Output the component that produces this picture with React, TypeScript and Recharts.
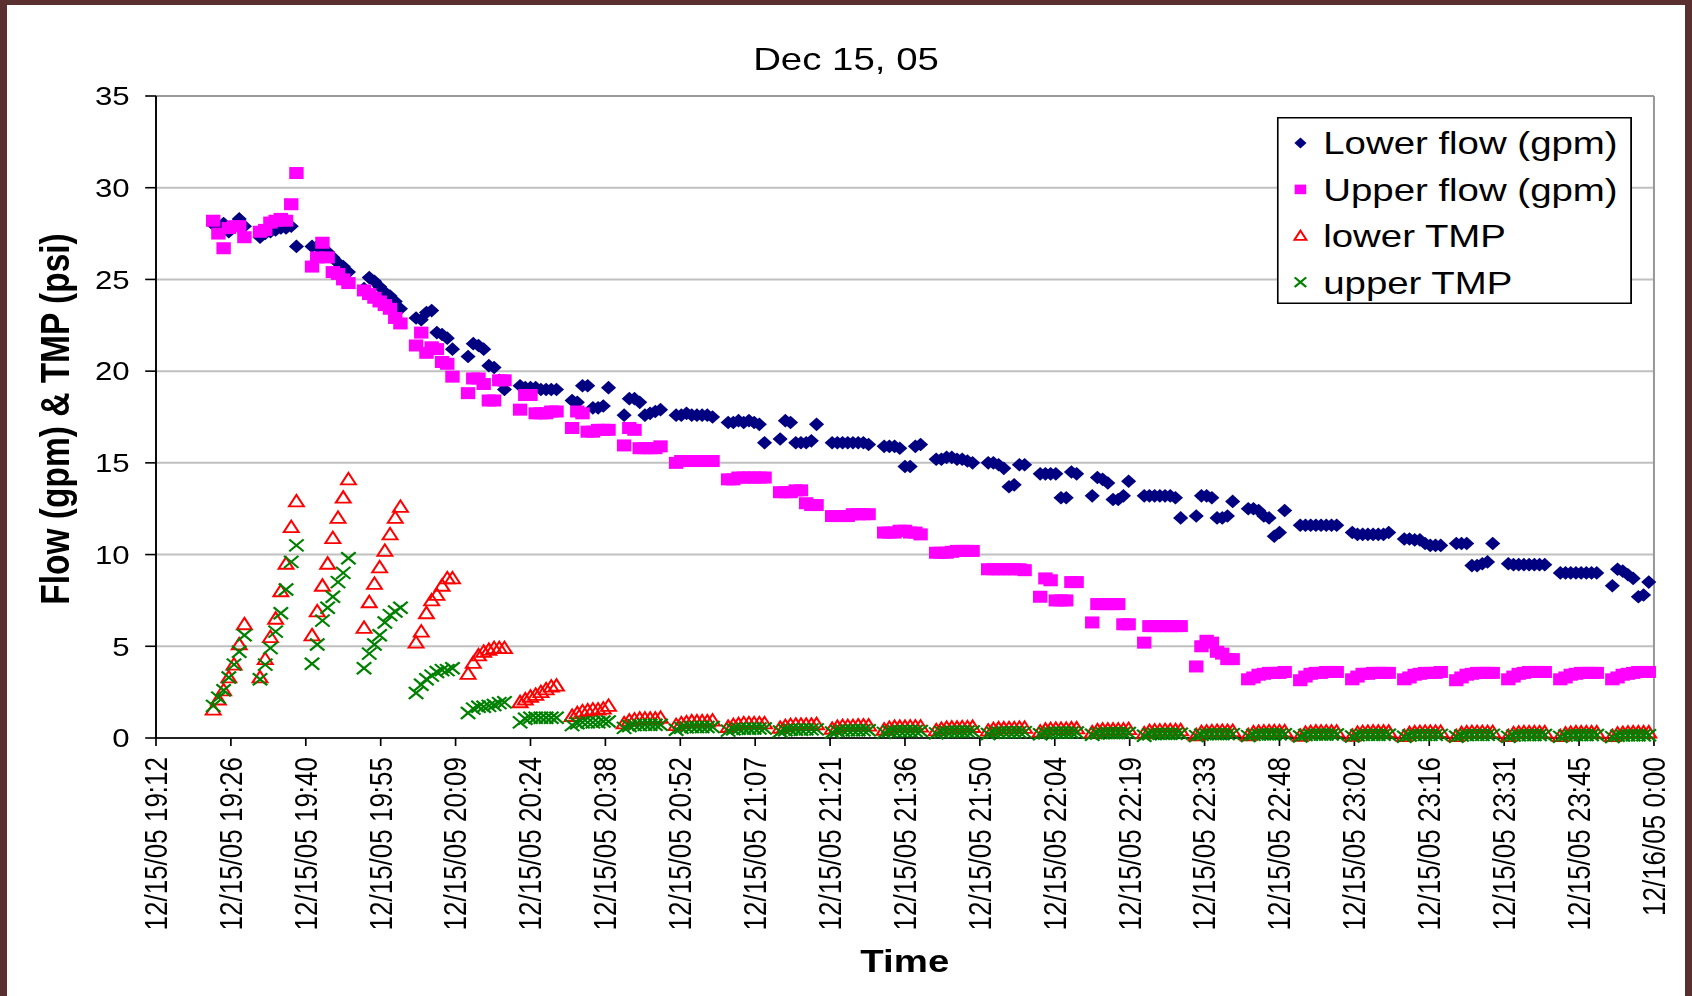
import { ScatterChart, Scatter, XAxis, YAxis, CartesianGrid, ReferenceLine, Legend } from 'recharts';

// Excel chart was stretched sideways; we draw at native width and stretch it the same way
const STRETCH = 1.2;
const FONT = '"Liberation Sans", Arial, sans-serif';

// minutes after 19:12, one sample a minute, 8 samples every 10 minutes
const groupStart = [11, 20, 30, 40, 50, 60, 70, 80, 90, 100, 110, 120, 130, 140, 150, 160, 170, 180, 190, 200, 210, 220, 230, 240, 250, 260, 270, 280];

const lowerFlow = [
  [28.0, 27.9, 28.05, 27.6, 27.9, 28.3, 27.9],
  [27.3, 27.5, 27.6, 27.7, 27.8, 27.8, 27.9, 26.8],
  [26.8, 26.8, 26.7, 26.5, 26.2, 25.9, 25.7, 25.4],
  [24.5, 25.1, 24.9, 24.6, 24.3, 24.1, 23.8, 23.4],
  [22.9, 22.8, 23.2, 23.3, 22.1, 22.0, 21.8, 21.2],
  [20.8, 21.5, 21.4, 21.2, 20.3, 20.2, 19.5, 19.0],
  [19.2, 19.1, 19.1, 19.1, 19.0, 19.0, 19.0, 19.0],
  [18.4, 18.3, 19.2, 19.2, 18.0, 18.0, 18.1, 19.1],
  [17.6, 18.5, 18.5, 18.3, 17.6, 17.7, 17.8, 17.9],
  [17.6, 17.6, 17.7, 17.6, 17.6, 17.6, 17.6, 17.5],
  [17.2, 17.2, 17.3, 17.2, 17.3, 17.2, 17.1, 16.1],
  [16.3, 17.3, 17.2, 16.1, 16.1, 16.1, 16.2, 17.1],
  [16.1, 16.1, 16.1, 16.1, 16.1, 16.1, 16.1, 16.0],
  [15.9, 15.9, 15.9, 15.8, 14.8, 14.8, 15.9, 16.0],
  [15.2, 15.2, 15.3, 15.3, 15.2, 15.2, 15.1, 15.0],
  [15.0, 15.0, 14.9, 14.7, 13.7, 13.8, 14.9, 14.9],
  [14.4, 14.4, 14.4, 14.4, 13.1, 13.1, 14.5, 14.4],
  [13.2, 14.2, 14.1, 13.9, 13.0, 13.0, 13.2, 14.0],
  [13.2, 13.2, 13.2, 13.2, 13.2, 13.2, 13.1, 12.0],
  [12.1, 13.2, 13.2, 13.1, 12.0, 12.0, 12.1, 12.9],
  [12.5, 12.5, 12.4, 12.1, 12.0, 11.0, 11.2, 12.4],
  [11.6, 11.6, 11.6, 11.6, 11.6, 11.6, 11.6, 11.6],
  [11.2, 11.1, 11.1, 11.1, 11.1, 11.1, 11.1, 11.2],
  [10.85, 10.85, 10.8, 10.8, 10.6, 10.5, 10.5, 10.5],
  [10.6, 10.6, 10.6, 9.4, 9.4, 9.5, 9.6, 10.6],
  [9.5, 9.45, 9.45, 9.45, 9.45, 9.45, 9.45, 9.45],
  [9.0, 9.0, 9.0, 9.0, 9.0, 9.0, 9.0, 9.0],
  [8.3, 9.2, 9.1, 8.9, 8.7, 7.7, 7.8, 8.5],
];

const upperFlow = [
  [28.2, 27.5, 26.7, 27.8, 27.9, 27.9, 27.3],
  [27.6, 27.7, 28.1, 28.2, 28.3, 28.2, 29.1, 30.8],
  [25.7, 26.2, 27.0, 26.2, 25.4, 25.3, 25.0, 24.8],
  [24.4, 24.2, 24.0, 23.8, 23.6, 23.4, 22.9, 22.6],
  [21.4, 22.1, 21.0, 21.3, 21.2, 20.5, 20.4, 19.7],
  [18.8, 19.6, 19.6, 19.3, 18.4, 18.4, 19.5, 19.5],
  [17.9, 18.7, 18.7, 17.7, 17.7, 17.7, 17.8, 17.8],
  [16.9, 17.8, 17.7, 16.7, 16.7, 16.8, 16.8, 16.8],
  [15.95, 16.9, 16.8, 15.8, 15.8, 15.8, 15.8, 15.9],
  [15.0, 15.1, 15.1, 15.1, 15.1, 15.1, 15.1, 15.1],
  [14.1, 14.1, 14.2, 14.2, 14.2, 14.2, 14.2, 14.2],
  [13.4, 13.4, 13.4, 13.5, 13.5, 12.8, 12.7, 12.7],
  [12.1, 12.1, 12.1, 12.1, 12.2, 12.2, 12.2, 12.2],
  [11.2, 11.2, 11.2, 11.3, 11.3, 11.2, 11.2, 11.1],
  [10.1, 10.1, 10.1, 10.15, 10.2, 10.2, 10.2, 10.2],
  [9.2, 9.2, 9.2, 9.2, 9.2, 9.2, 9.2, 9.15],
  [7.7, 8.7, 8.6, 7.5, 7.5, 7.5, 8.5, 8.5],
  [6.3, 7.3, 7.3, 7.3, 7.3, 7.3, 6.2, 6.2],
  [5.2, 6.1, 6.1, 6.1, 6.1, 6.1, 6.1, 6.1],
  [3.9, 5.0, 5.3, 5.2, 4.7, 4.6, 4.3, 4.3],
  [3.2, 3.3, 3.45, 3.5, 3.55, 3.55, 3.55, 3.6],
  [3.15, 3.35, 3.5, 3.55, 3.55, 3.6, 3.6, 3.6],
  [3.2, 3.35, 3.5, 3.5, 3.55, 3.55, 3.55, 3.55],
  [3.2, 3.3, 3.45, 3.5, 3.55, 3.55, 3.55, 3.6],
  [3.15, 3.3, 3.45, 3.5, 3.55, 3.55, 3.55, 3.55],
  [3.2, 3.35, 3.5, 3.55, 3.6, 3.6, 3.6, 3.6],
  [3.2, 3.3, 3.45, 3.5, 3.55, 3.55, 3.55, 3.55],
  [3.2, 3.3, 3.45, 3.5, 3.55, 3.6, 3.6, 3.6],
];

const lowerTmp = [
  [1.55, 2.1, 2.6, 3.3, 4.0, 5.1, 6.2],
  [3.3, 4.3, 5.5, 6.5, 8.0, 9.5, 11.5, 12.9],
  [5.6, 6.9, 8.3, 9.5, 10.9, 12.0, 13.1, 14.1],
  [6.0, 7.4, 8.4, 9.3, 10.2, 11.1, 12.0, 12.6],
  [5.2, 5.8, 6.8, 7.5, 7.8, 8.3, 8.7, 8.7],
  [3.5, 4.1, 4.5, 4.7, 4.8, 4.9, 4.9, 4.9],
  [1.95, 2.1, 2.25, 2.35, 2.5, 2.65, 2.8, 2.85],
  [1.2, 1.35, 1.45, 1.5, 1.55, 1.55, 1.6, 1.75],
  [0.8, 0.95, 1.0, 1.05, 1.05, 1.05, 1.05, 1.1],
  [0.7, 0.8, 0.85, 0.9, 0.9, 0.9, 0.9, 0.95],
  [0.6, 0.7, 0.75, 0.8, 0.8, 0.8, 0.8, 0.8],
  [0.55, 0.65, 0.7, 0.72, 0.72, 0.72, 0.72, 0.75],
  [0.5, 0.6, 0.65, 0.65, 0.65, 0.68, 0.68, 0.68],
  [0.45, 0.55, 0.6, 0.6, 0.6, 0.62, 0.62, 0.62],
  [0.42, 0.5, 0.55, 0.56, 0.56, 0.58, 0.58, 0.6],
  [0.4, 0.48, 0.52, 0.52, 0.53, 0.53, 0.55, 0.55],
  [0.35, 0.45, 0.48, 0.5, 0.5, 0.5, 0.52, 0.52],
  [0.3, 0.42, 0.45, 0.45, 0.45, 0.46, 0.46, 0.48],
  [0.25, 0.38, 0.4, 0.4, 0.42, 0.42, 0.42, 0.42],
  [0.15, 0.32, 0.35, 0.36, 0.38, 0.38, 0.38, 0.38],
  [0.15, 0.3, 0.33, 0.35, 0.36, 0.36, 0.36, 0.36],
  [0.12, 0.28, 0.32, 0.34, 0.35, 0.35, 0.35, 0.35],
  [0.12, 0.28, 0.32, 0.33, 0.34, 0.34, 0.34, 0.34],
  [0.1, 0.26, 0.3, 0.32, 0.33, 0.33, 0.33, 0.33],
  [0.1, 0.26, 0.3, 0.32, 0.32, 0.32, 0.32, 0.32],
  [0.1, 0.25, 0.29, 0.31, 0.31, 0.31, 0.31, 0.31],
  [0.1, 0.24, 0.28, 0.3, 0.3, 0.3, 0.3, 0.3],
  [0.1, 0.24, 0.27, 0.29, 0.3, 0.3, 0.3, 0.3],
];

const upperTmp = [
  [1.75, 2.2, 2.6, 3.3, 4.0, 4.7, 5.6],
  [3.2, 4.0, 4.9, 5.8, 6.8, 8.1, 9.6, 10.5],
  [4.05, 5.1, 6.4, 7.1, 7.7, 8.5, 9.0, 9.8],
  [3.8, 4.6, 5.1, 5.6, 6.3, 6.7, 6.9, 7.1],
  [2.45, 2.9, 3.2, 3.4, 3.6, 3.7, 3.7, 3.8],
  [1.36, 1.6, 1.7, 1.7, 1.75, 1.8, 1.9, 1.95],
  [0.85, 1.05, 1.1, 1.1, 1.1, 1.1, 1.1, 1.1],
  [0.7, 0.8, 0.85, 0.85, 0.85, 0.85, 0.9, 0.9],
  [0.55, 0.65, 0.7, 0.7, 0.72, 0.72, 0.72, 0.72],
  [0.45, 0.55, 0.58, 0.6, 0.6, 0.6, 0.6, 0.6],
  [0.4, 0.48, 0.5, 0.5, 0.5, 0.52, 0.52, 0.52],
  [0.35, 0.42, 0.45, 0.45, 0.45, 0.47, 0.47, 0.47],
  [0.3, 0.38, 0.4, 0.42, 0.42, 0.42, 0.42, 0.42],
  [0.28, 0.35, 0.37, 0.38, 0.38, 0.38, 0.38, 0.38],
  [0.25, 0.32, 0.34, 0.35, 0.35, 0.35, 0.35, 0.35],
  [0.22, 0.28, 0.3, 0.32, 0.32, 0.32, 0.32, 0.32],
  [0.2, 0.26, 0.28, 0.3, 0.3, 0.3, 0.3, 0.3],
  [0.18, 0.24, 0.26, 0.27, 0.27, 0.27, 0.27, 0.27],
  [0.12, 0.2, 0.22, 0.23, 0.23, 0.23, 0.23, 0.23],
  [0.1, 0.18, 0.2, 0.21, 0.21, 0.21, 0.21, 0.21],
  [0.1, 0.17, 0.19, 0.2, 0.2, 0.2, 0.2, 0.2],
  [0.08, 0.16, 0.18, 0.19, 0.19, 0.19, 0.19, 0.19],
  [0.08, 0.15, 0.17, 0.18, 0.18, 0.18, 0.18, 0.18],
  [0.07, 0.14, 0.16, 0.17, 0.17, 0.17, 0.17, 0.17],
  [0.07, 0.14, 0.16, 0.17, 0.17, 0.17, 0.17, 0.17],
  [0.06, 0.13, 0.15, 0.16, 0.16, 0.16, 0.16, 0.16],
  [0.06, 0.13, 0.15, 0.16, 0.16, 0.16, 0.16, 0.16],
  [0.05, 0.12, 0.14, 0.15, 0.15, 0.15, 0.15, 0.15],
];

const tickTimes = [0, 14.4, 28.8, 43.2, 57.6, 72, 86.4, 100.8, 115.2, 129.6, 144, 158.4, 172.8, 187.2, 201.6, 216, 230.4, 244.8, 259.2, 273.6, 288];
const tickLabels = [
  '12/15/05 19:12', '12/15/05 19:26', '12/15/05 19:40', '12/15/05 19:55', '12/15/05 20:09',
  '12/15/05 20:24', '12/15/05 20:38', '12/15/05 20:52', '12/15/05 21:07', '12/15/05 21:21',
  '12/15/05 21:36', '12/15/05 21:50', '12/15/05 22:04', '12/15/05 22:19', '12/15/05 22:33',
  '12/15/05 22:48', '12/15/05 23:02', '12/15/05 23:16', '12/15/05 23:31', '12/15/05 23:45',
  '12/16/05 0:00',
];
const yTicks = [0, 5, 10, 15, 20, 25, 30, 35];

const toPoints = (groups: number[][]) =>
  groups.flatMap((vals, g) => vals.map((v, i) => ({ t: groupStart[g] + i, v })));

// marker shapes, drawn round the point the scales give us
const Diamond = ({ cx, cy, k = 1 }: any) => (
  <path d={`M${cx},${cy - 6.8 * k}L${cx + 6.3 * k},${cy}L${cx},${cy + 6.8 * k}L${cx - 6.3 * k},${cy}Z`} fill="#000080" />
);
const Square = ({ cx, cy, k = 1 }: any) => (
  <rect x={cx - 6 * k} y={cy - 6 * k} width={12 * k} height={12 * k} fill="#ff00ff" />
);
const Triangle = ({ cx, cy, k = 1 }: any) => (
  <path d={`M${cx},${cy - 6.5 * k}L${cx + 6.2 * k},${cy + 5 * k}L${cx - 6.2 * k},${cy + 5 * k}Z`} fill="none" stroke="#ff0000" strokeWidth={1.8} />
);
const Cross = ({ cx, cy, k = 1 }: any) => (
  <path d={`M${cx - 6 * k},${cy - 6 * k}L${cx + 6 * k},${cy + 6 * k}M${cx - 6 * k},${cy + 6 * k}L${cx + 6 * k},${cy - 6 * k}`} stroke="#008000" strokeWidth={2} />
);

const series = [
  { name: 'Lower flow (gpm)', groups: lowerFlow, Shape: Diamond },
  { name: 'Upper flow (gpm)', groups: upperFlow, Shape: Square },
  { name: 'lower TMP', groups: lowerTmp, Shape: Triangle },
  { name: 'upper TMP', groups: upperTmp, Shape: Cross },
];

const TimeTick = ({ x, y, payload }: any) => (
  <text
    x={x}
    y={y}
    transform={`rotate(-90, ${x}, ${y})`}
    textAnchor="end"
    dominantBaseline="central"
    fontSize={26}
    fontFamily={FONT}
    fill="#000"
  >
    {tickLabels[tickTimes.indexOf(payload.value)]}
  </text>
);

const LegendBox = () => (
  <svg width={296} height={187} style={{ display: 'block' }}>
    <rect x={0.75} y={0.75} width={294.5} height={185.5} fill="#fff" stroke="#000" strokeWidth={1.5} />
    {series.map((s, i) => (
      <g key={s.name}>
        <s.Shape cx={19.7} cy={26 + i * 46.4} k={0.8} />
        <text x={38.7} y={26 + i * 46.4} dominantBaseline="central" fontSize={32} fontFamily={FONT} fill="#000">
          {s.name}
        </text>
      </g>
    ))}
  </svg>
);

const App = () => {
  return (
    <div style={{ position: 'absolute', left: 0, top: 0, width: 1692, height: 996, background: '#5a2f2f', overflow: 'hidden' }}>
      <div style={{ position: 'absolute', left: 7, top: 5, width: 1678, height: 991, background: '#fff' }} />
      <div
        style={{
          position: 'absolute', left: 0, top: 0, width: 1692 / STRETCH, height: 996,
          transform: `scaleX(${STRETCH})`, transformOrigin: '0 0', fontFamily: FONT,
        }}
      >
        <div style={{ position: 'absolute', left: 505, top: 39, width: 400, lineHeight: '40px', fontSize: 32, textAlign: 'center', color: '#000' }}>
          Dec 15, 05
        </div>
        <ScatterChart width={1692 / STRETCH} height={996} margin={{ top: 96, right: 1692 / STRETCH - 1378.3, bottom: 0, left: 0 }}>
          <CartesianGrid vertical={false} stroke="#c0c0c0" strokeWidth={2} />
          <XAxis
            type="number"
            dataKey="t"
            domain={[0, 288]}
            ticks={tickTimes}
            interval={0}
            height={258}
            tickSize={8}
            tickMargin={11}
            tick={<TimeTick />}
            axisLine={{ stroke: '#222', strokeWidth: 2 }}
            tickLine={{ stroke: '#000', strokeWidth: 1.4 }}
            label={() => (
              <text x={754} y={961} textAnchor="middle" dominantBaseline="central" fontSize={32} fontWeight="bold" fontFamily={FONT} fill="#000">
                Time
              </text>
            )}
          />
          <YAxis
            type="number"
            dataKey="v"
            domain={[0, 35]}
            ticks={yTicks}
            width={130}
            tickSize={9}
            tickMargin={13}
            tick={{ fontSize: 26, fill: '#000', fontFamily: FONT }}
            axisLine={{ stroke: '#000', strokeWidth: 1.6 }}
            tickLine={{ stroke: '#000', strokeWidth: 1.6 }}
            label={() => (
              <text x={46} y={419} transform="rotate(-90, 46, 419)" textAnchor="middle" dominantBaseline="central" fontSize={33.5} fontWeight="bold" fontFamily={FONT} fill="#000">
                Flow (gpm) &amp; TMP (psi)
              </text>
            )}
          />
          <ReferenceLine y={35} stroke="#999" strokeWidth={2} />
          <ReferenceLine x={288} stroke="#999" strokeWidth={1.7} />
          <Legend
            layout="vertical"
            align="center"
            verticalAlign="middle"
            wrapperStyle={{ left: 1063.75, top: 116.5, width: 296, height: 187 }}
            content={() => <LegendBox />}
          />
          {series.map((s) => (
            <Scatter
              key={s.name}
              name={s.name}
              data={toPoints(s.groups)}
              shape={(p: any) => <s.Shape cx={p.cx} cy={p.cy} />}
              isAnimationActive={false}
            />
          ))}
        </ScatterChart>
      </div>
    </div>
  );
};

export default App;
